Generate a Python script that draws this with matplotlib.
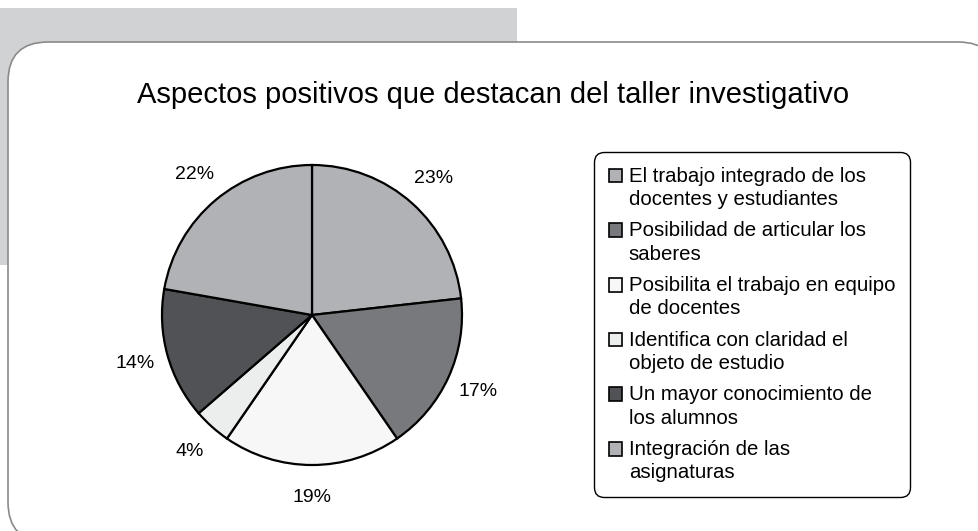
import matplotlib.pyplot as plt
from matplotlib.patches import Rectangle, FancyBboxPatch, Wedge
from matplotlib.legend_handler import HandlerPatch

plt.rcParams['font.family'] = ['Liberation Sans', 'DejaVu Sans']

# datos
titulo = "Aspectos positivos que destacan del taller investigativo"
categorias = [
    "El trabajo integrado de los\ndocentes y estudiantes",
    "Posibilidad de articular los\nsaberes",
    "Posibilita el trabajo en equipo\nde docentes",
    "Identifica con claridad el\nobjeto de estudio",
    "Un mayor conocimiento de\nlos alumnos",
    "Integración de las\nasignaturas",
]
valores = [23, 17, 19, 4, 14, 22]
colores = ["#b1b2b5", "#78797c", "#f7f7f7", "#eceeed", "#515255", "#b1b2b5"]

W, H = 979, 531
fig = plt.figure(figsize=(W / 100, H / 100), dpi=100)

# fondo: rectangulo gris y panel blanco redondeado
bg = fig.add_axes([0, 0, 1, 1])
bg.set_xlim(0, W)
bg.set_ylim(H, 0)
bg.axis("off")
bg.add_patch(Rectangle((0, 8), 517, 257, facecolor="#d1d2d4", edgecolor="none"))
bg.add_patch(FancyBboxPatch((8, 42), 990, 500, boxstyle="round,pad=0,rounding_size=40",
                            facecolor="white", edgecolor="#8a8a8a", linewidth=1.2))

fig.text(493 / W, 1 - 103 / H, titulo, ha="center", va="baseline", fontsize=21)

# grafico de torta
cx, cy, r = 312, 315, 150
side = 2.5 * r
ax = fig.add_axes([(cx - side / 2) / W, (H - cy - side / 2) / H, side / W, side / H])
wedges, texts, autotexts = ax.pie(
    valores, colors=colores, startangle=90, counterclock=False,
    autopct="%1.0f%%", pctdistance=1.22,
    wedgeprops=dict(edgecolor="black", linewidth=1.6),
    textprops=dict(fontsize=14),
)
ax.set_xlim(-1.25, 1.25)
ax.set_ylim(-1.25, 1.25)


# cuadro de leyenda alineado con la primera linea
def cuadro(legend, orig_handle, xdescent, ydescent, width, height, fontsize):
    return Rectangle((-xdescent, -ydescent + 0.62 * fontsize), width, height)


leg = ax.legend(
    wedges, categorias, loc="upper left",
    bbox_to_anchor=(594 / W, 1 - 152 / H), bbox_transform=fig.transFigure,
    fontsize=14.7, frameon=True, fancybox=True, edgecolor="black", framealpha=1,
    handlelength=0.65, handleheight=0.65, handletextpad=0.33, borderpad=0.72,
    labelspacing=0.61, borderaxespad=0,
    handler_map={Wedge: HandlerPatch(patch_func=cuadro)},
)
leg.get_frame().set_linewidth(1.0)
leg.get_frame().set_boxstyle("round", pad=0, rounding_size=0.5)
for t in leg.get_texts():
    t.set_linespacing(1.28)
for h in leg.legend_handles:
    h.set_edgecolor("black")
    h.set_linewidth(1.2)

fig.savefig("out.png", dpi=100)
